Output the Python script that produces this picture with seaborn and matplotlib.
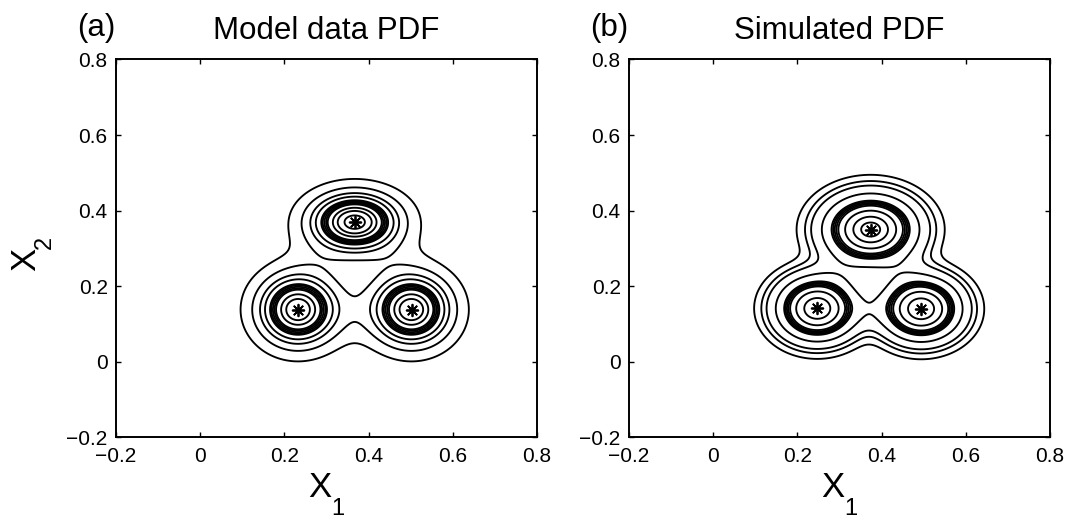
import numpy as np
import pandas as pd
import matplotlib
matplotlib.use("Agg")
import matplotlib.pyplot as plt
import seaborn as sns

# Three-lobed PDFs: lobe centres, spreads, peak heights and radial shape exponent
# Panel (a): model data PDF
a_cx = [0.232, 0.502, 0.367]
a_cy = [0.138, 0.138, 0.370]
a_sx = [0.0736, 0.0736, 0.0831]
a_sy = [0.0741, 0.0741, 0.0608]
a_amp = [0.995, 0.995, 1.04]
a_shape = 2.0
a_levels = [0.18, 0.336, 0.472, 0.567, 0.665, 0.69, 0.72, 0.75, 0.777,
            0.86, 0.928, 1.0]

# Panel (b): simulated PDF
b_cx = [0.247, 0.494, 0.374]
b_cy = [0.141, 0.140, 0.350]
b_sx = [0.0891, 0.0891, 0.1045]
b_sy = [0.0794, 0.0794, 0.0860]
b_amp = [0.99, 0.99, 1.0]
b_shape = 3.0
b_levels = [0.092, 0.19, 0.29, 0.505, 0.704, 0.733, 0.762, 0.791, 0.821,
            0.907, 0.970, 0.995]

ticks = [-0.2, 0, 0.2, 0.4, 0.6, 0.8]
tick_labels = ["\u22120.2", "0", "0.2", "0.4", "0.6", "0.8"]
titles = ["Model data PDF", "Simulated PDF"]
panel_tags = ["(a)", "(b)"]

sns.set_style("white")
plt.rcParams["font.family"] = ["Liberation Sans", "DejaVu Sans"]
for key in ["text.color", "axes.labelcolor", "xtick.color", "ytick.color",
            "axes.edgecolor"]:
    plt.rcParams[key] = "black"

W, H = 1069, 518
fig = plt.figure(figsize=(W / 100, H / 100), dpi=100)
fig.patch.set_facecolor("white")

gx = np.linspace(-0.2, 0.8, 801)
gy = np.linspace(-0.2, 0.8, 801)
GX, GY = np.meshgrid(gx, gy)


def density(cx, cy, sx, sy, amp, shape):
    z = np.zeros_like(GX)
    for mx, my, vx, vy, a in zip(cx, cy, sx, sy, amp):
        m2 = ((GX - mx) / vx) ** 2 + ((GY - my) / vy) ** 2
        z += a * np.exp(-0.5 * m2 ** (shape / 2.0))
    return z


def px(x, y):
    """Figure fraction from pixel position measured from the top-left."""
    return x / W, (H - y) / H


panels = [
    (a_cx, a_cy, a_sx, a_sy, a_amp, a_shape, a_levels, 116),
    (b_cx, b_cy, b_sx, b_sy, b_amp, b_shape, b_levels, 629),
]

for i, (cx, cy, sx, sy, amp, shape, levels, left_px) in enumerate(panels):
    ax = fig.add_axes([left_px / W, (H - 437.3) / H, 421 / W, 377.8 / H])
    z = density(cx, cy, sx, sy, amp, shape)
    ax.contour(GX, GY, z, levels=levels, colors="black", linewidths=1.35)
    centres = pd.DataFrame({"x": cx, "y": cy})
    sns.scatterplot(data=centres, x="x", y="y", ax=ax, marker=(8, 2, 0),
                    s=70, color="black", linewidth=1.3, edgecolor="black",
                    legend=False, zorder=5)
    ax.set_xlim(-0.2, 0.8)
    ax.set_ylim(-0.2, 0.8)
    ax.set_xticks(ticks)
    ax.set_yticks(ticks)
    ax.set_xticklabels(tick_labels)
    ax.set_yticklabels(tick_labels)
    ax.tick_params(direction="in", length=3.5, width=1.0, labelsize=15,
                   top=True, right=True, bottom=True, left=True,
                   colors="black", pad=7)
    ax.tick_params(axis="y", pad=6)
    for sp in ax.spines.values():
        sp.set_visible(True)
        sp.set_linewidth(1.4)
        sp.set_color("black")
    ax.set_xlabel("")
    ax.set_ylabel("")

    # x-axis label X with a dropped subscript 1
    mid = left_px + 421 / 2
    fig.text(*px(mid + 5, 497), "X", ha="right", va="baseline", fontsize=25)
    fig.text(*px(mid + 5, 515), "1", ha="left", va="baseline", fontsize=17)

    ax.text(0.5, 1 + 20 / 377.8, titles[i], transform=ax.transAxes,
            ha="center", va="baseline", fontsize=22.5)
    fig.text(*px(left_px - 39, 36), panel_tags[i],
             ha="left", va="baseline", fontsize=22.5)

# y-axis label X with a dropped subscript 2 (rotated)
fig.text(*px(35.5, 271), "X", rotation=90, rotation_mode="anchor",
         ha="left", va="baseline", fontsize=25)
fig.text(*px(51, 249), "2", rotation=90, rotation_mode="anchor",
         ha="left", va="baseline", fontsize=17)

fig.savefig("out.png", dpi=100, facecolor="white")
